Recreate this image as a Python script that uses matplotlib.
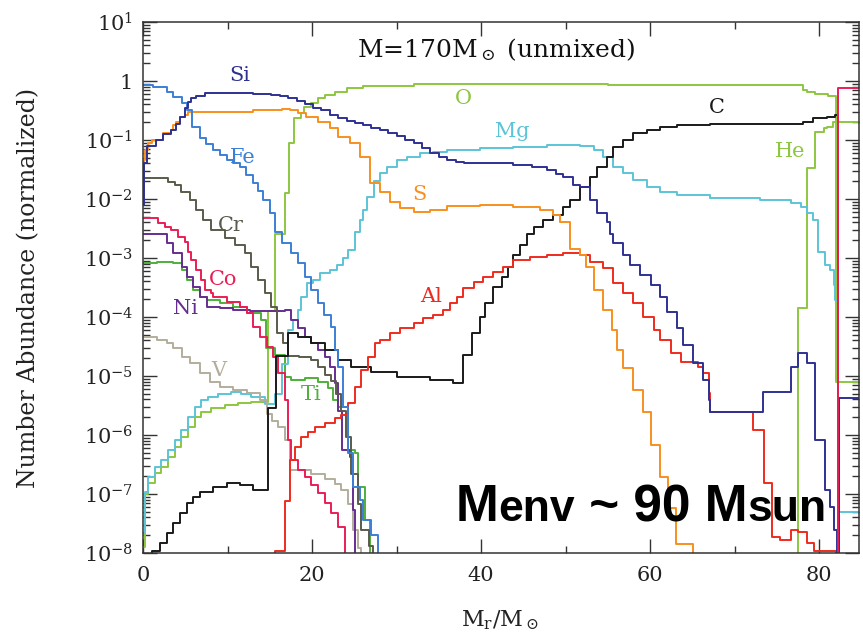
import math

import matplotlib
matplotlib.use("Agg")
import matplotlib.pyplot as plt
from matplotlib.ticker import LogLocator, FixedLocator, NullFormatter, FuncFormatter

plt.rcParams['font.family'] = 'DejaVu Serif'
plt.rcParams['mathtext.fontset'] = 'dejavuserif'

X_MAX = 84.7
FLOOR = 1e-9   # below the plotted range

# mass coordinate (Msun) where each zone starts, and number abundance in that zone
fe_m = [0, 1.2, 2.8, 3.6, 4.6, 5.2, 5.8, 6.7, 7.5, 8.3, 9.1, 9.9, 10.7, 11.5, 12.2, 13.0, 13.6,
        14.2, 15.0, 15.6, 16.5, 17.5, 18.3, 19.2, 19.9, 20.7, 21.4, 22.2, 22.7, 23.1, 23.7, 24.3,
        24.9, 25.7, 26.0, 27.0, 27.8]
fe_y = [0.85, 0.79, 0.65, 0.54, 0.43, 0.32, 0.166, 0.11, 0.087, 0.068, 0.056, 0.046, 0.040, 0.035,
        0.026, 0.019, 0.0135, 9.5e-3, 5.8e-3, 2.75e-3, 1.8e-3, 1.2e-3, 8.3e-4, 4.8e-4, 2.9e-4,
        1.7e-4, 1.07e-4, 6.8e-5, 2.75e-5, 1.4e-5, 2.95e-6, 4.9e-7, 1.3e-7, 7.9e-8, 3.6e-8, 2e-8, FLOOR]

si_m = [0, 0.1, 0.5, 1.5, 2.4, 3.3, 3.9, 4.4, 5.0, 5.3, 5.7, 6.3, 7.3, 9.2, 11.2, 13.0, 15.1, 16.2,
        17.2, 18.2, 19.2, 20.1, 21.1, 22.1, 23.1, 24.1, 25.1, 26.0, 27.0, 28.0, 29.0, 30.0, 31.0,
        32.0, 33.0, 34.0, 35.0, 36.0, 37.0, 38.0, 40.0, 43.8, 46.0, 47.8, 48.8, 49.7, 50.9, 51.7,
        52.9, 53.7, 54.9, 55.3, 55.6, 56.8, 57.6, 58.8, 60.1, 61.2, 62.0, 63.2, 63.9, 65.1, 66.3,
        66.9, 67.1, 73.3, 76.6, 77.5, 78.6, 79.5, 80.7, 81.3, 81.7, 82.1, 82.3, X_MAX]
si_y = [8e-3, 0.04, 0.08, 0.1, 0.126, 0.15, 0.19, 0.25, 0.355, 0.44, 0.51, 0.56, 0.62, 0.63, 0.63,
        0.60, 0.575, 0.55, 0.52, 0.46, 0.40, 0.355, 0.32, 0.27, 0.24, 0.21, 0.195, 0.18, 0.162,
        0.148, 0.13, 0.117, 0.102, 0.089, 0.074, 0.060, 0.052, 0.046, 0.043, 0.041, 0.040, 0.038,
        0.035, 0.031, 0.027, 0.0234, 0.0174, 0.0158, 9.5e-3, 5.8e-3, 4.1e-3, 2.6e-3, 1.8e-3,
        1.12e-3, 7.6e-4, 5.1e-4, 3.5e-4, 2.2e-4, 1.2e-4, 6.5e-5, 3.4e-5, 1.66e-5, 8.5e-6, 3.9e-6,
        2.45e-6, 5.4e-6, 1.4e-5, 2.45e-5, 1.66e-5, 8.3e-7, 1.17e-7, 6e-8, 2.5e-8, FLOOR, 4.3e-6, 4.3e-6]

s_m = [0, 0.06, 0.2, 0.6, 1.1, 2.4, 3.3, 3.5, 3.9, 4.4, 5.0, 5.3, 7.0, 10.0, 13.0, 16.5, 17.4, 18.3,
       19.3, 20.7, 22.1, 23.1, 24.5, 25.7, 26.9, 28.0, 29.2, 30.4, 32.0, 34.0, 36.0, 39.9, 43.8,
       47.0, 48.5, 49.3, 50.5, 51.7, 52.4, 53.3, 54.4, 55.5, 56.1, 56.8, 58.0, 59.1, 60.1, 61.2,
       62.1, 63.1, 65.1]
s_y = [1e-2, 0.046, 0.068, 0.089, 0.1, 0.132, 0.148, 0.178, 0.204, 0.245, 0.263, 0.295, 0.30, 0.30,
       0.32, 0.33, 0.32, 0.29, 0.25, 0.204, 0.158, 0.112, 0.089, 0.051, 0.0186, 0.0132, 8.9e-3,
       7.1e-3, 6.0e-3, 6.5e-3, 7.6e-3, 7.9e-3, 7.2e-3, 6.5e-3, 5.4e-3, 4.1e-3, 1.4e-3, 1.12e-3,
       7.1e-4, 2.9e-4, 1.32e-4, 6.0e-5, 2.75e-5, 1.38e-5, 5.8e-6, 2.5e-6, 6.8e-7, 1.95e-7, 5.8e-8,
       1.4e-8, FLOOR]

al_m = [0, 15.6, 16.8, 17.4, 18.0, 18.7, 19.5, 20.3, 21.5, 22.7, 23.4, 24.3, 25.1, 25.8, 26.6, 27.5,
        28.0, 29.2, 30.4, 32.0, 33.1, 34.3, 35.5, 36.3, 37.2, 37.9, 39.1, 40.2, 41.4, 42.6, 43.8,
        45.8, 47.8, 49.7, 51.7, 52.9, 54.4, 55.6, 56.8, 58.0, 59.2, 60.4, 61.2, 62.4, 63.6, 65.6,
        66.3, 66.9, 67.1, 72.2, 73.4, 74.4, 75.3, 76.6, 77.5, 78.6, 79.4, 82.0]
al_y = [FLOOR, 1.1e-8, 7.6e-8, 3.8e-7, 6.3e-7, 9.3e-7, 1.12e-6, 1.38e-6, 1.6e-6, 1.95e-6, 2.2e-6,
        3.5e-6, 6.5e-6, 1.26e-5, 2.1e-5, 3.6e-5, 4.1e-5, 5.4e-5, 6.5e-5, 7.9e-5, 9.5e-5, 1.07e-4,
        1.32e-4, 1.74e-4, 2.2e-4, 3.1e-4, 3.9e-4, 4.8e-4, 5.75e-4, 7.1e-4, 9.3e-4, 1.05e-3,
        1.12e-3, 1.2e-3, 1.12e-3, 8.5e-4, 6.8e-4, 3.8e-4, 2.6e-4, 1.74e-4, 1.0e-4, 6.0e-5, 4.1e-5,
        2.45e-5, 1.74e-5, 1.4e-5, 1.12e-5, 5.1e-6, 2.45e-6, 1.2e-6, 1.55e-7, 1.9e-8, 1.66e-8,
        2.45e-8, 2.3e-8, 1.5e-8, 1.1e-8, FLOOR]

c_m = [0, 1.1, 2.0, 2.8, 3.6, 4.4, 5.2, 5.9, 6.7, 8.3, 9.9, 11.5, 13.0, 14.8, 15.7, 17.2, 18.3, 19.9,
       21.5, 23.1, 24.6, 27.0, 30.1, 34.0, 36.7, 37.9, 38.9, 39.9, 40.5, 41.4, 42.5, 43.2, 43.8,
       44.6, 45.4, 46.2, 47.3, 48.5, 49.7, 50.5, 51.7, 52.9, 53.7, 54.9, 55.6, 56.8, 58.0, 59.6,
       61.2, 63.2, 67.1, 76.9, 78.1, 79.3, 80.9, 81.9, 82.2]
c_y = [FLOOR, 1.1e-8, 1.5e-8, 2.2e-8, 3.2e-8, 4.8e-8, 7.1e-8, 8.9e-8, 1.07e-7, 1.32e-7, 1.55e-7,
       1.4e-7, 1.17e-7, 2.9e-6, 2.2e-5, 5.4e-5, 4.6e-5, 3.6e-5, 2.75e-5, 1.86e-5, 1.4e-5, 1.17e-5,
       9.5e-6, 8.5e-6, 7.6e-6, 2.3e-5, 5.4e-5, 1.0e-4, 1.74e-4, 3.2e-4, 4.8e-4, 7.1e-4, 1.12e-3,
       1.66e-3, 2.6e-3, 3.4e-3, 4.4e-3, 5.4e-3, 7.2e-3, 9.5e-3, 0.0158, 0.0234, 0.035, 0.051,
       0.076, 0.1, 0.132, 0.148, 0.166, 0.178, 0.186, 0.186, 0.204, 0.235, 0.245, 0.263, FLOOR]

mg_m = [0, 0.2, 0.6, 1.4, 2.1, 3.0, 3.8, 4.5, 5.3, 6.2, 6.9, 7.7, 8.9, 10.4, 11.6, 12.8, 14.4, 15.6,
        16.4, 17.2, 17.8, 18.3, 18.7, 19.4, 20.1, 20.9, 22.1, 23.0, 23.7, 24.3, 25.1, 25.7, 26.0,
        26.5, 27.3, 28.0, 28.9, 30.1, 31.2, 32.8, 34.3, 36.0, 39.9, 43.8, 47.8, 51.7, 53.3, 54.4,
        55.6, 56.8, 58.0, 59.6, 61.2, 63.2, 67.1, 73.0, 76.6, 77.8, 78.6, 79.3, 79.8, 80.7, 81.3,
        81.7, 81.9, 82.2, X_MAX]
mg_y = [2.2e-8, 1.1e-7, 1.95e-7, 2.9e-7, 3.8e-7, 5.6e-7, 8.3e-7, 1.2e-6, 2.05e-6, 2.95e-6, 3.9e-6,
        4.4e-6, 4.9e-6, 5.4e-6, 4.9e-6, 4.4e-6, 3.4e-6, 4.9e-6, 1.6e-5, 6e-5, 9e-5, 1.3e-4, 2.2e-4,
        3.8e-4, 4.3e-4, 5.6e-4, 6.3e-4, 7.6e-4, 1.0e-3, 1.38e-3, 2.75e-3, 4.4e-3, 6.5e-3, 0.0107,
        0.02, 0.0275, 0.035, 0.046, 0.051, 0.060, 0.063, 0.068, 0.072, 0.076, 0.083, 0.078, 0.068,
        0.051, 0.035, 0.0275, 0.021, 0.0158, 0.0132, 0.0117, 0.0105, 9.5e-3, 8.5e-3, 7.2e-3,
        5.8e-3, 4.4e-3, 1.26e-3, 7.6e-4, 6.3e-4, 3.5e-4, 1.95e-4, 4.9e-8, 4.9e-8]

cr_m = [0, 1.8, 2.9, 3.8, 4.5, 5.6, 6.3, 7.1, 8.0, 9.7, 10.9, 12.1, 12.8, 13.6, 14.4, 15.1, 15.9,
        16.6, 17.2, 18.5, 19.9, 20.7, 21.5, 22.2, 22.8, 23.4, 24.0, 24.6, 25.4, 25.8, 26.7, 27.2]
cr_y = [0.023, 0.023, 0.0195, 0.0174, 0.0132, 9.5e-3, 6.5e-3, 4.4e-3, 2.95e-3, 2.2e-3, 1.66e-3,
        1.2e-3, 7.1e-4, 4.3e-4, 2.6e-4, 1.48e-4, 5.4e-5, 3.6e-5, 2.2e-5, 2.1e-5, 1.86e-5, 1.4e-5,
        1.05e-5, 8.3e-6, 4.9e-6, 2.6e-6, 9.3e-7, 2.2e-7, 6.8e-8, 2.45e-8, 1.3e-8, FLOOR]

co_m = [0, 1.8, 2.6, 3.3, 4.1, 5.0, 5.3, 5.7, 6.3, 6.9, 7.3, 8.0, 8.3, 9.9, 11.5, 12.3, 13.0, 13.8,
        14.7, 15.4, 16.0, 16.8, 17.2, 17.5, 18.3, 19.2, 19.9, 20.7, 21.5, 22.2, 23.1, 23.9]
co_y = [4.8e-3, 3.9e-3, 3.4e-3, 2.95e-3, 2.3e-3, 1.86e-3, 1.26e-3, 9.3e-4, 6.3e-4, 4.3e-4, 2.9e-4,
        2.6e-4, 2.2e-4, 1.78e-4, 1.48e-4, 1.17e-4, 6.8e-5, 4.6e-5, 3.1e-5, 2.1e-5, 1.12e-5, 3.9e-6,
        8.3e-7, 3.8e-7, 2.6e-7, 1.95e-7, 1.4e-7, 1.05e-7, 7.1e-8, 4.8e-8, 2.75e-8, FLOOR]

ni_m = [0, 1.7, 2.8, 3.6, 4.6, 5.2, 5.9, 6.7, 7.6, 9.1, 10.7, 12.7, 16.8, 17.5, 18.3, 19.2, 19.9,
        20.7, 21.5, 22.1, 22.7, 23.1, 23.5, 24.5, 24.8, 25.1]
ni_y = [2.6e-3, 2.6e-3, 1.78e-3, 1.2e-3, 7.1e-4, 4.8e-4, 3.2e-4, 2.2e-4, 1.48e-4, 1.4e-4, 1.32e-4,
        1.26e-4, 1.32e-4, 8.9e-5, 6.5e-5, 4.6e-5, 3.6e-5, 2.75e-5, 2.1e-5, 1.4e-5, 7.6e-6, 2.6e-6,
        5.6e-7, 4.3e-7, 5.4e-8, FLOOR]

v_m = [0, 1.7, 2.8, 3.6, 4.6, 5.6, 6.7, 7.9, 9.1, 10.7, 12.3, 13.8, 14.7, 15.3, 16.0, 16.8, 17.4,
       18.3, 19.9, 21.5, 22.7, 23.4, 24.3, 24.9, 25.4, 25.8]
v_y = [4.6e-5, 4.1e-5, 3.6e-5, 2.95e-5, 2.1e-5, 1.66e-5, 1.12e-5, 7.9e-6, 6.5e-6, 5.75e-6, 5.1e-6,
       3.9e-6, 2.3e-6, 1.74e-6, 1.38e-6, 8.3e-7, 2.6e-7, 2.6e-7, 2.2e-7, 1.78e-7, 1.48e-7, 1.17e-7,
       6.8e-8, 2.45e-8, 1.2e-8, FLOOR]

ti_m = [0, 1.7, 3.6, 4.6, 5.2, 5.9, 6.7, 7.6, 9.1, 10.7, 12.3, 14.0, 14.6, 15.6, 16.8, 17.5, 19.2,
        20.7, 21.9, 22.5, 23.1, 24.3, 25.1, 25.4, 26.3, 26.8]
ti_y = [8.3e-4, 8.5e-4, 8.3e-4, 6.3e-4, 4.3e-4, 2.9e-4, 2.2e-4, 1.95e-4, 1.74e-4, 1.48e-4, 1.17e-4,
        8.9e-5, 3.0e-5, 2.3e-5, 9.5e-6, 8.5e-6, 9.3e-6, 7.9e-6, 6.3e-6, 3.9e-6, 2.95e-6, 5.6e-7,
        4.9e-7, 1.3e-7, 3.6e-8, FLOOR]

o_m = [0, 0.2, 0.6, 1.4, 2.1, 3.0, 3.8, 4.5, 5.3, 6.2, 6.9, 8.0, 9.7, 11.2, 12.8, 14.8, 15.6,
       16.8, 17.3, 17.9, 18.7, 19.1, 19.9, 20.7, 21.5, 22.7, 24.1, 26.0, 32.0, 45.0, 55.0, 65.0,
       76.9, 78.1, 78.6, 79.5, 81.0, 82.0, X_MAX]
o_y = [1.26e-8, 1e-7, 1.55e-7, 2.3e-7, 2.9e-7, 4.3e-7, 6.3e-7, 9.3e-7, 1.38e-6, 2.05e-6, 2.45e-6,
       2.9e-6, 3.2e-6, 3.5e-6, 3.6e-6, 1.26e-4, 2.6e-3, 0.0126, 0.089, 0.234, 0.29, 0.36, 0.43,
       0.51, 0.575, 0.65, 0.76, 0.83, 0.89, 0.89, 0.87, 0.85, 0.85, 0.71, 0.65, 0.60, 0.56,
       7.9e-6, 7.9e-6]

he_m = [0, 77.5, 78.6, 79.5, 80.5, 80.9, 81.6, X_MAX]
he_y = [FLOOR, 1.4e-4, 0.034, 0.138, 0.158, 0.166, 0.20, 0.20]

h_m = [0, 82.25, X_MAX]
h_y = [FLOOR, 0.76, 0.76]

curves = [
    (o_m, o_y, '#8dc63f'), (he_m, he_y, '#8dc63f'), (ti_m, ti_y, '#4fb03a'),
    (mg_m, mg_y, '#5bc4d6'), (v_m, v_y, '#b3ae9b'), (ni_m, ni_y, '#662d91'),
    (co_m, co_y, '#ea1d55'), (cr_m, cr_y, '#5b5b4c'), (c_m, c_y, '#1a1a1a'),
    (al_m, al_y, '#ef2b1e'), (s_m, s_y, '#f7901e'), (fe_m, fe_y, '#3c7fd6'),
    (si_m, si_y, '#2e3192'), (h_m, h_y, '#ea1d55'),
]

# element labels: (text, mass, abundance, colour)
labels = [
    ('Si', 11.5, 1.26, '#2e3192'), ('Fe', 11.8, 0.051, '#3c7fd6'), ('Cr', 10.4, 3.6e-3, '#5b5b4c'),
    ('Co', 9.5, 4.4e-4, '#ea1d55'), ('Ni', 5.0, 1.4e-4, '#662d91'), ('V', 9.0, 1.26e-5, '#b3ae9b'),
    ('Ti', 19.9, 4.9e-6, '#4fb03a'), ('O', 37.9, 0.51, '#8dc63f'), ('Mg', 43.7, 0.137, '#5bc4d6'),
    ('S', 32.7, 0.0117, '#f7901e'), ('Al', 34.1, 2.2e-4, '#ef2b1e'), ('C', 67.9, 0.36, '#1a1a1a'),
    ('He', 76.6, 0.065, '#8dc63f'),
]

fig = plt.figure(figsize=(8.63, 6.38), dpi=100)
ax = fig.add_axes([0.1657, 0.1332, 0.8297, 0.8323])

for m, y, col in curves:
    ax.step(m, y, where='post', color=col, lw=1.4)

ax.set_yscale('log')
ax.set_xlim(0, X_MAX)
ax.set_ylim(1e-8, 10)

ax.xaxis.set_major_locator(FixedLocator([0, 20, 40, 60, 80]))
ax.xaxis.set_minor_locator(FixedLocator([10, 30, 50, 70]))
ax.yaxis.set_major_locator(LogLocator(base=10, numticks=20))
ax.yaxis.set_minor_locator(LogLocator(base=10, subs=range(2, 10), numticks=20))
ax.yaxis.set_minor_formatter(NullFormatter())


def decade(v, pos):
    p = int(round(math.log10(v)))
    return '1' if p == 0 else r'$10^{%d}$' % p


ax.yaxis.set_major_formatter(FuncFormatter(decade))
ax.tick_params(which='both', direction='in', top=True, right=True, colors='#333333',
               labelcolor='#222222', labelsize=15, width=1)
ax.tick_params(which='major', length=10)
ax.tick_params(which='minor', length=5)
ax.tick_params(axis='x', pad=9)
ax.tick_params(axis='y', pad=7)
for sp in ax.spines.values():
    sp.set_color('#333333')
    sp.set_linewidth(1.1)

ax.set_ylabel('Number Abundance (normalized)', fontsize=17, color='#222222')
ax.yaxis.set_label_coords(-0.143, 0.5)
ax.set_xlabel(r'M$_\mathrm{r}$/M$_\odot$', fontsize=16, color='#222222')
ax.xaxis.set_label_coords(0.499, -0.105)

for txt, m, y, col in labels:
    ax.text(m, y, txt, color=col, fontsize=15, ha='center', va='center')

ax.text(41.8, 2.55, r'M=170M$_\odot$ (unmixed)', fontsize=18, ha='center', va='baseline',
        color='#111111')

# envelope mass note, large capitals with smaller lowercase parts
t = ax.text(0.437, 0.060, 'M', transform=ax.transAxes, fontsize=37, fontweight='bold',
            family='Liberation Sans', va='baseline', ha='left', zorder=5)
for s, fs in [('env', 32), (' ~ 90 M', 37), ('sun', 32)]:
    t = ax.annotate(s, xy=(1, 0.060), xycoords=(t, ax.transAxes), fontsize=fs,
                    fontweight='bold', family='Liberation Sans', va='baseline', ha='left',
                    zorder=5)

fig.savefig('out.png', dpi=100)
